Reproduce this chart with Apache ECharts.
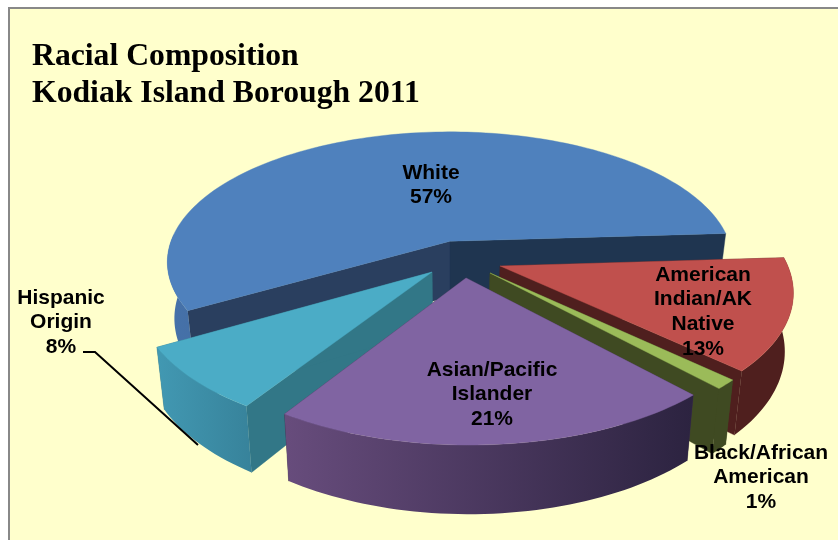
<!DOCTYPE html>
<html><head><meta charset="utf-8">
<style>html,body{margin:0;padding:0;background:#fff}#c{width:838px;height:540px}</style>
<script src="https://cdn.jsdelivr.net/npm/echarts@6/dist/echarts.min.js"></script>
</head><body><div id="c"></div>
<script>
const titleLines = ['Racial Composition', 'Kodiak Island Borough 2011'];
const categories = ['White', 'American Indian/AK Native', 'Black/African American', 'Asian/Pacific Islander', 'Hispanic Origin'];
const values = [57.4, 13.1, 1.1, 20.9, 7.5];
const percentLabels = ['57%', '13%', '1%', '21%', '8%'];
const labelLines = [['White'], ['American', 'Indian/AK', 'Native'], ['Black/African', 'American'], ['Asian/Pacific', 'Islander'], ['Hispanic', 'Origin']];

// view settings
const startDeg = 149.8;
const P = {cx: 450, cy: 278, rx: 292, ry: 139, persp: 0.168, depth: 57.5, shrink: 0.975};
const explode = [[0, -0.277], [0.174, -0.0876], [0.1378, -0.0362], [0.055, 0], [-0.062, -0.0431]];
const drawOrder = [0, 1, 2, 4, 3];
const labelAt = [[431, 173], [703, 275], [761, 453], [492, 370], [61, 298]];
const lineH = 24.6;
const topColor = ['#4F81BD', '#C0504D', '#9BBB59', '#8064A2', '#4BACC6'];
const cutColor = [['#1F3550', '#2A3F5F'], ['#4F1F1E', '#4F1F1E'], ['#3F4A22', '#3F4A22'], ['#3A2D4A', '#3A2D4A'], ['#327787', '#327787']];
const wallGrad = [
  [166, 300, '#4672AA', '#3F6699'],
  [700, 800, '#4F1F1E', '#4F1F1E'],
  [715, 735, '#3F4A22', '#3F4A22'],
  [286, 692, '#674C7C', '#2C2340'],
  [154, 254, '#4299B3', '#37829A']
];
const frontLimit = 183;

function top3(i, deg, r) {
  const a = deg * Math.PI / 180;
  const X = explode[i][0] + r * Math.cos(a), Y = explode[i][1] + r * Math.sin(a);
  const q = 1 - P.persp * Y;
  return {x: P.cx + P.rx * X / q, y: P.cy + P.ry * Y / q, s: 1 / q};
}
const up = p => [p.x, p.y];
const low = p => [P.cx + (p.x - P.cx) * P.shrink, p.y + P.depth * p.s];
function arc(i, a0, a1) {
  const n = Math.max(4, Math.ceil(Math.abs(a1 - a0) / 1.5)), out = [];
  for (let k = 0; k <= n; k++) out.push(top3(i, a0 + (a1 - a0) * k / n, 1));
  return out;
}
const total = values.reduce((a, b) => a + b, 0);
const ranges = [];
values.reduce((s, v, i) => { const e = s + v / total * 360; ranges[i] = [s, e]; return e; }, startDeg);

function poly(points, fill) {
  return {type: 'polygon', shape: {points}, style: {fill, stroke: typeof fill === 'string' ? fill : null, lineWidth: 0.4}};
}
function renderSlice(params, api) {
  const i = api.value(0);
  const [a0, a1] = ranges[i];
  const pts = arc(i, a0, a1), apex = top3(i, 0, 0);
  const b0 = a0 >= 300 ? a0 - 360 : a0, b1 = a1 - (a0 >= 300 ? 360 : 0);
  const front = arc(i, b0, Math.min(b1, frontLimit));
  const g = wallGrad[i];
  const grad = {type: 'linear', x: g[0], y: 0, x2: g[1], y2: 0, global: true,
    colorStops: [{offset: 0, color: g[2]}, {offset: 1, color: g[3]}]};
  const wall = front.map(up).concat(front.slice().reverse().map(low));
  const first = pts[0], last = pts[pts.length - 1];
  return {type: 'group', children: [
    poly([up(apex), up(first), low(first), low(apex)], cutColor[i][1]),
    poly([up(apex), up(last), low(last), low(apex)], cutColor[i][0]),
    poly(wall, grad),
    poly([up(apex)].concat(pts.map(up)), topColor[i])
  ]};
}
function renderLabels(params, api) {
  const i = api.value(0);
  const lines = labelLines[i].concat(percentLabels[i]);
  return {type: 'group', children: lines.map((t, k) => ({
    type: 'text',
    style: {text: t, x: labelAt[i][0], y: labelAt[i][1] + k * lineH, align: 'center', verticalAlign: 'middle',
      fill: '#000', font: 'bold 21px "Liberation Sans", Arial, sans-serif'}
  }))};
}
const order = drawOrder.map(i => [i, values[i]]);
const chart = echarts.init(document.getElementById('c'), null, {renderer: 'canvas'});
chart.setOption({
  animation: false,
  backgroundColor: '#fff',
  graphic: [
    {type: 'rect', z: -10, shape: {x: 9, y: 8, width: 840, height: 560}, style: {fill: '#FFFFCC', stroke: '#888', lineWidth: 2}},
    {type: 'text', z: 5, style: {text: titleLines[0], x: 32, y: 57, verticalAlign: 'middle', fill: '#000', font: 'bold 31.7px "Liberation Serif", "Times New Roman", serif'}},
    {type: 'text', z: 5, style: {text: titleLines[1], x: 32, y: 94, verticalAlign: 'middle', fill: '#000', font: 'bold 31.7px "Liberation Serif", "Times New Roman", serif'}},
    {type: 'polyline', z: 5, shape: {points: [[83, 352], [95, 352], [198, 445]]}, style: {stroke: '#000', lineWidth: 2, fill: null}}
  ],
  series: [
    {type: 'custom', coordinateSystem: 'none', silent: true, z: 2, data: order, encode: {value: 1}, renderItem: renderSlice},
    {type: 'custom', coordinateSystem: 'none', silent: true, z: 3, data: order, encode: {value: 1}, renderItem: renderLabels}
  ]
});
</script></body></html>
